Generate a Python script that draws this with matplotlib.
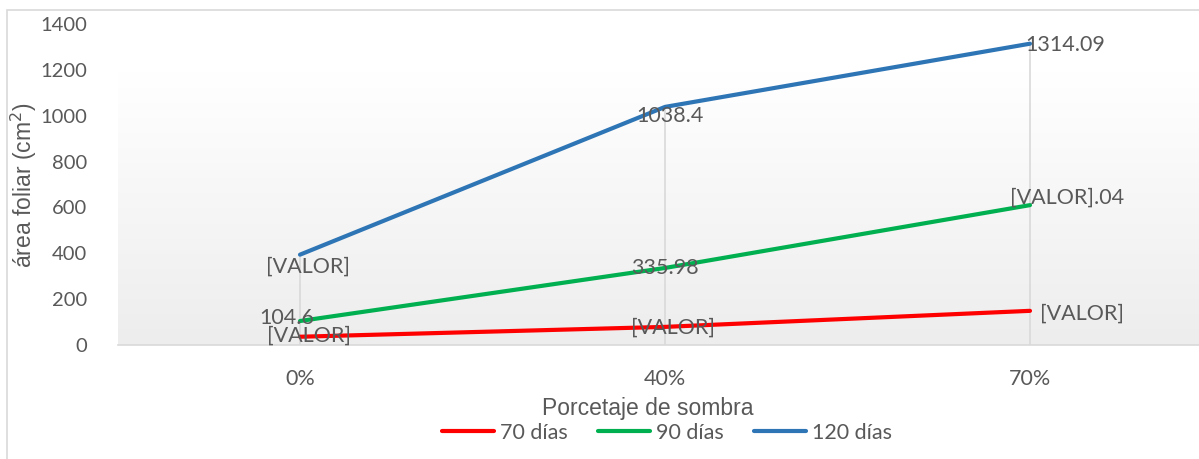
import numpy as np
import matplotlib.pyplot as plt
from matplotlib.patches import Rectangle
from matplotlib.colors import LinearSegmentedColormap

# Data
categorias = ['0%', '40%', '70%']
series_nombres = ['70 días', '90 días', '120 días']
dias_70 = [36, 79, 149]
dias_90 = [104.6, 335.98, 610.04]
dias_120 = [394, 1038.4, 1314.09]
etiquetas_70 = ['[VALOR]', '[VALOR]', '[VALOR]']
etiquetas_90 = ['104.6', '335.98', '[VALOR].04']
etiquetas_120 = ['[VALOR]', '1038.4', '1314.09']

colores = ['#FF0000', '#00B050', '#2E75B6']
gris_texto = '#595959'
gris_linea = '#D9D9D9'

W, H = 1199, 459
fig = plt.figure(figsize=(W / 100, H / 100), dpi=100)
fig.patch.set_facecolor('white')

# outer chart border (only top and left visible)
fig.add_artist(Rectangle((7 / W, -0.1), 1.2, 1.1 - 10 / H, transform=fig.transFigure,
                         fill=False, edgecolor=gris_linea, linewidth=1.2))

ax = fig.add_axes([117.5 / W, 114 / H, 1 - 117.5 / W, 321 / H])
x = np.arange(len(categorias))
ax.set_xlim(-0.5, -0.5 + (W - 117.5) / 365)
ax.set_ylim(0, 1400)

# plot area gradient background
grad = LinearSegmentedColormap.from_list('fondo', [(0, '#EDEDED'), (0.85, '#FFFFFF'), (1, '#FFFFFF')])
ax.imshow(np.linspace(0, 1, 256).reshape(-1, 1), cmap=grad, origin='lower', aspect='auto',
          extent=[0, 1, 0, 1], transform=ax.transAxes, zorder=0)

# drop lines from the top series
maximos = np.max([dias_70, dias_90, dias_120], axis=0)
ax.vlines(x, 0, maximos, color=gris_linea, linewidth=1.2, zorder=1)

datos = [dias_70, dias_90, dias_120]
for vals, nombre, color in zip(datos, series_nombres, colores):
    ax.plot(x, vals, color=color, linewidth=3, label=nombre, solid_capstyle='round', zorder=2)

# data labels: (dx, dy) in pixels, alignment
fuente = 'Lato'
tam = 15.5
pos_70 = [((9, 1), 'center'), ((8, -1), 'center'), ((10, -3), 'left')]
pos_90 = [((-13, 3), 'center'), ((0, 0), 'center'), ((-20, 7), 'left')]
pos_120 = [((8, -12), 'center'), ((5, -9), 'center'), ((-5, -1), 'left')]
for vals, labs, pos in [(dias_70, etiquetas_70, pos_70), (dias_90, etiquetas_90, pos_90),
                        (dias_120, etiquetas_120, pos_120)]:
    for xi, v, lab, ((dx, dy), ha) in zip(x, vals, labs, pos):
        ax.annotate(lab, (xi, v), xytext=(dx, dy), textcoords='offset pixels',
                    ha=ha, va='center', fontsize=tam, color=gris_texto, family=fuente, zorder=3)

# axes styling
for s in ['top', 'right', 'left']:
    ax.spines[s].set_visible(False)
ax.spines['bottom'].set_color(gris_linea)
ax.spines['bottom'].set_linewidth(1.2)
ax.set_xticks(x)
ax.set_xticklabels(categorias)
ax.set_yticks(np.arange(0, 1401, 200))
ax.tick_params(length=0, labelsize=tam, labelcolor=gris_texto)
ax.tick_params(axis='x', pad=17)
ax.tick_params(axis='y', pad=22, labelsize=14.5)
for lbl in ax.get_xticklabels() + ax.get_yticklabels():
    lbl.set_family(fuente)

fig.text(648 / W, 1 - 408 / H, 'Porcetaje de sombra', ha='center', va='center',
         fontsize=16.5, color=gris_texto, family='Liberation Sans')
fig.text(24 / W, 1 - 185 / H, 'área foliar (cm$^2$)', ha='center', va='center', rotation=90,
         fontsize=16.5, color=gris_texto, family='Liberation Sans')

leg = fig.legend(loc='center', bbox_to_anchor=(667 / W, 1 - 433 / H), ncol=3, frameon=False,
                 handlelength=2.4, handletextpad=0.25, columnspacing=1.45,
                 prop={'family': fuente, 'size': tam})
for t in leg.get_texts():
    t.set_color(gris_texto)

fig.savefig('out.png', dpi=100)
